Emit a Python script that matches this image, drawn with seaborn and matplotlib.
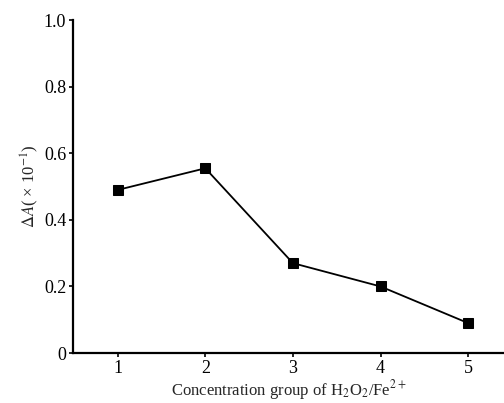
import matplotlib
matplotlib.use("Agg")
import matplotlib.pyplot as plt
import seaborn as sns
import pandas as pd

groups = [1, 2, 3, 4, 5]
delta_a = [0.49, 0.555, 0.27, 0.20, 0.09]
yticks = [0, 0.2, 0.4, 0.6, 0.8, 1.0]
yticklabels = ["0", "0.2", "0.4", "0.6", "0.8", "1.0"]

sns.set_style("ticks")
plt.rcParams['font.family'] = ['Liberation Serif', 'DejaVu Serif']
plt.rcParams['mathtext.fontset'] = 'stix'

df = pd.DataFrame({"group": groups, "dA": delta_a})

fig = plt.figure(figsize=(5.04, 4.03), dpi=100)
ax = fig.add_axes([0.145, 0.124, 0.855, 0.826])
sns.lineplot(data=df, x="group", y="dA", ax=ax, color="black", linewidth=1.3,
             marker="s", markersize=7, markeredgecolor="black",
             markerfacecolor="black")

ax.set_xlim(0.49, 5.41)
ax.set_ylim(0, 1.0)
ax.set_xticks(groups)
ax.set_xticklabels([str(g) for g in groups], fontsize=13)
ax.set_yticks(yticks)
ax.set_yticklabels(yticklabels, fontsize=13)
ax.tick_params(axis="both", direction="out", length=3, width=1.2, colors="black", pad=2)
for s in ["top", "right"]:
    ax.spines[s].set_visible(False)
for s in ["left", "bottom"]:
    ax.spines[s].set_linewidth(1.6)
    ax.spines[s].set_color("black")

ax.set_xlabel(r"Concentration group of H$_2$O$_2$/Fe$^{2+}$", fontsize=12, labelpad=1)
ax.set_ylabel(r"$\Delta\mathit{A}$( × 10$^{-1}$)", fontsize=12, labelpad=2)

fig.savefig("out.png", dpi=100)
